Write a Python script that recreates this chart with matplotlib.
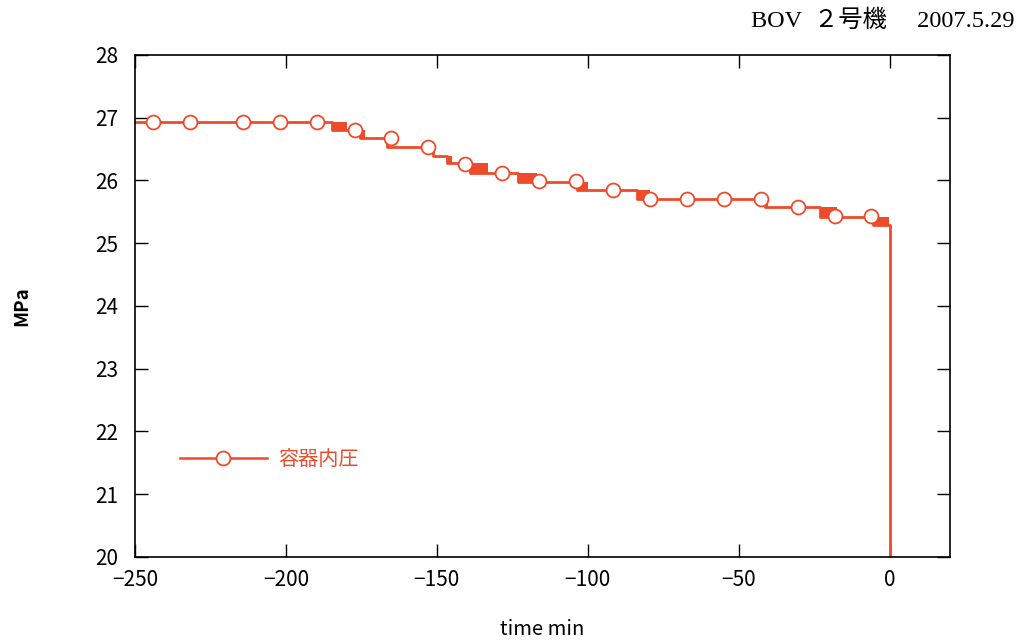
import matplotlib
matplotlib.use('Agg')
import matplotlib.pyplot as plt

plt.rcParams['font.family'] = ['Noto Sans CJK JP', 'DejaVu Sans']

RED = '#EE4B2B'

# 容器内圧の段階値 (変化時刻 min, 圧力 MPa)
step_t = [-250, -184.8, -175.5, -166.6, -151.3, -146.7, -139.1, -123.2,
          -103.6, -83.8, -41.4, -23.2, -5.6, 0.0]
step_p = [26.93, 26.80, 26.68, 26.53, 26.39, 26.28, 26.12, 25.98,
          25.85, 25.71, 25.58, 25.42, 25.29, 19.0]

# 値がばたつく区間 (開始, 終了, 下, 上)
band_t0 = [-184.8, -175.5, -146.7, -139.1, -123.2, -103.6, -83.8, -41.4, -23.2, -5.6]
band_t1 = [-179.8, -173.8, -145.0, -133.1, -116.9, -100.0, -79.5, -40.4, -17.5, -0.3]
band_lo = [26.80, 26.68, 26.28, 26.12, 25.98, 25.85, 25.71, 25.58, 25.42, 25.29]
band_hi = [26.93, 26.80, 26.39, 26.28, 26.12, 25.98, 25.85, 25.71, 25.58, 25.42]

# マーカー位置
mark_t = [-244, -231.8, -214.2, -201.9, -189.7, -177.2, -165.2, -153.0, -140.7,
          -128.5, -116.2, -104.0, -91.7, -79.5, -67.2, -55.0, -42.7, -30.5, -18.2, -6.0]
mark_p = [26.93, 26.93, 26.93, 26.93, 26.93, 26.80, 26.68, 26.53, 26.26,
          26.12, 25.99, 25.99, 25.85, 25.70, 25.70, 25.70, 25.70, 25.58, 25.43, 25.43]

fig = plt.figure(figsize=(10.29, 6.44), dpi=100)
ax = fig.add_axes([0.1312, 0.1351, 0.792, 0.7795])

ax.plot(step_t, step_p, drawstyle='steps-post', color=RED, lw=2.0, zorder=2)
for t0, t1, lo, hi in zip(band_t0, band_t1, band_lo, band_hi):
    ax.fill_between([t0, t1], [lo, lo], [hi, hi], color=RED, lw=0, zorder=2)
ax.plot(mark_t, mark_p, ls='none', marker='o', ms=10, mfc='white', mec=RED,
        mew=1.3, zorder=3)

# 凡例用
ax.plot([], [], color=RED, lw=1.8, marker='o', ms=10, mfc='white', mec=RED,
        mew=1.3, label='容器内圧')
leg = ax.legend(loc='center left', bbox_to_anchor=(0.033, 0.194), frameon=False,
                handlelength=4.3, handletextpad=0.55, labelcolor=RED,
                prop={'family': ['Noto Sans CJK JP'], 'size': 14.5})

ax.set_xlim(-250, 20)
ax.set_ylim(20, 28)
ax.set_xticks([-250, -200, -150, -100, -50, 0])
ax.set_yticks(range(20, 29))
ax.tick_params(direction='in', length=9.5, width=1, top=True, right=True,
               labelsize=15, pad=9)
ax.tick_params(axis='y', pad=12)
for s in ax.spines.values():
    s.set_linewidth(1.2)

ax.set_xlabel('time min', fontsize=14.5, labelpad=20)
ax.set_ylabel('MPa', fontsize=13.5, fontweight='bold', labelpad=46)

fig.text(0.986, 0.968, 'BOV  ２号機　 2007.5.29', ha='right', va='center', fontsize=17.5,
         family=['Liberation Serif', 'Noto Sans CJK JP'])

fig.savefig('out.png', dpi=100)
